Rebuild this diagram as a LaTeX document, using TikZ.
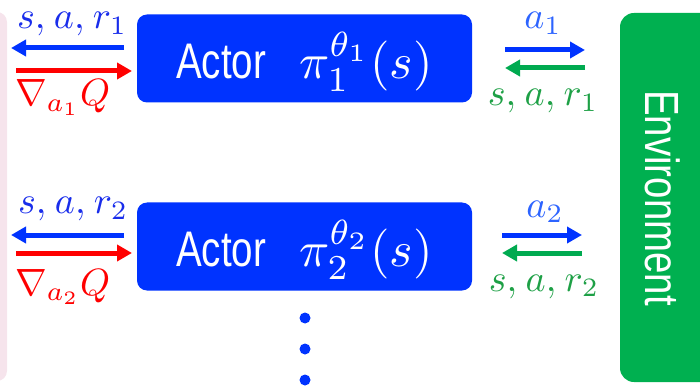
\RequirePackage{fix-cm}
\documentclass[tikz,border=0pt]{standalone}
\usepackage{fontspec}
\setsansfont{Liberation Sans}
\usepackage{graphicx}
\usetikzlibrary{arrows.meta}

\definecolor{actorblue}{RGB}{0,51,255}
\definecolor{lblblue}{RGB}{25,45,235}
\definecolor{lightlblblue}{RGB}{45,100,255}
\definecolor{envgreen}{RGB}{0,176,80}
\definecolor{lblgreen}{RGB}{30,160,70}
\definecolor{arrgreen}{RGB}{0,170,80}
\definecolor{pinkbg}{RGB}{246,228,236}
\definecolor{arrred}{RGB}{255,0,0}

\newcommand{\narrowtxt}[2]{\scalebox{#1}[1]{#2}}
\newcommand{\scaledmath}[2]{\scalebox{#1}{\fontsize{10}{12}\selectfont$#2$}}

\begin{document}
\begin{tikzpicture}[x=1pt,y=-1pt,
  actorbox/.style={fill=actorblue, rounded corners=10pt, minimum width=335pt,
    minimum height=88pt, inner sep=0pt, text=white, text height=40pt, text depth=0pt,
    font=\fontsize{50}{52}\selectfont\sffamily},
  mathlbl/.style={inner sep=0pt, anchor=base west},
  arr/.style={line width=5pt, -{Triangle[length=15pt,width=16pt]}},
  dotnode/.style={circle, fill=actorblue, inner sep=0pt, minimum size=11pt}
]
\useasboundingbox (0,0) rectangle (700,387);
\clip (0,0) rectangle (700,387);

% critic (partly visible) and environment
\fill[pinkbg, rounded corners=10pt] (-40,12) rectangle (7,381);
\fill[envgreen, rounded corners=14pt] (620,13) rectangle (740,382);
\node[rotate=-90, text=white, inner sep=0pt,
  font=\fontsize{48}{50}\selectfont\sffamily] (env) at (663,198)
  {\narrowtxt{0.8}{Environment}};

% actors
\node[actorbox] (actor1) at (304.5,58.5)
  {\narrowtxt{0.77}{Actor}\hspace{33pt}\scaledmath{5}{\pi_1^{\theta_1}(s)}\hspace{8pt}};
\node[actorbox] (actor2) at (304.5,246.5)
  {\narrowtxt{0.77}{Actor}\hspace{33pt}\scaledmath{5}{\pi_2^{\theta_2}(s)}\hspace{8pt}};

% left arrows, row 1
\coordinate (lb1s) at (124,48);  \coordinate (lb1e) at (11,48);
\coordinate (lr1s) at (16,71);   \coordinate (lr1e) at (132,71);
\draw[arr, actorblue] (lb1s) -- (lb1e);
\draw[arr, arrred] (lr1s) -- (lr1e);
\node[mathlbl, text=lblblue] (ls1) at (17,29) {\scaledmath{3.8}{s,\mkern1mu a,\mkern1mu r_1}};
\node[mathlbl, text=arrred] (lg1) at (15,106) {\scaledmath{3.8}{\nabla_{a_1}Q}};

% left arrows, row 2
\coordinate (lb2s) at (124,235); \coordinate (lb2e) at (11,235);
\coordinate (lr2s) at (16,253);  \coordinate (lr2e) at (132,253);
\draw[arr, actorblue] (lb2s) -- (lb2e);
\draw[arr, arrred] (lr2s) -- (lr2e);
\node[mathlbl, text=lblblue] (ls2) at (18,214) {\scaledmath{3.8}{s,\mkern1mu a,\mkern1mu r_2}};
\node[mathlbl, text=arrred] (lg2) at (15,295) {\scaledmath{3.8}{\nabla_{a_2}Q}};

% right arrows, row 1
\coordinate (rb1s) at (505,50);  \coordinate (rb1e) at (585,50);
\coordinate (rg1s) at (585,68);  \coordinate (rg1e) at (505,68);
\draw[arr, actorblue] (rb1s) -- (rb1e);
\draw[arr, arrgreen] (rg1s) -- (rg1e);
\node[mathlbl, anchor=base, text=lightlblblue] (ra1) at (543,29) {\scaledmath{3.8}{a_1}};
\node[mathlbl, anchor=base, text=lblgreen] (rs1) at (543,106) {\scaledmath{3.8}{s,\mkern1mu a,\mkern1mu r_1}};

% right arrows, row 2
\coordinate (rb2s) at (502,235); \coordinate (rb2e) at (582,235);
\coordinate (rg2s) at (582,253); \coordinate (rg2e) at (502,253);
\draw[arr, actorblue] (rb2s) -- (rb2e);
\draw[arr, arrgreen] (rg2s) -- (rg2e);
\node[mathlbl, anchor=base, text=lightlblblue] (ra2) at (545,217) {\scaledmath{3.8}{a_2}};
\node[mathlbl, anchor=base, text=lblgreen] (rs2) at (544,291) {\scaledmath{3.8}{s,\mkern1mu a,\mkern1mu r_2}};

% vertical dots
\node[dotnode] (d1) at (305,318) {};
\node[dotnode] (d2) at (305,349) {};
\node[dotnode] (d3) at (305,380) {};
\end{tikzpicture}
\end{document}
